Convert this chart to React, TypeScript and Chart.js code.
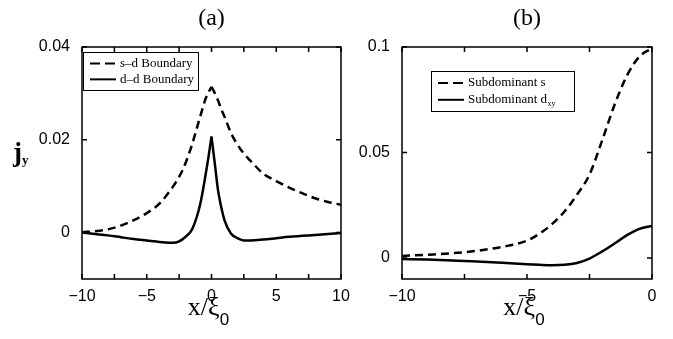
import React, { useEffect, useRef } from "react";
import { Chart, registerables } from "chart.js";

Chart.register(...registerables);

// ---------- data ----------
// Panel (a)
const A_X = [-10, -9, -8, -7, -6, -5, -4, -3, -2.5, -2, -1.5, -1, -0.75, -0.5, -0.25, 0, 0.25, 0.5, 0.75, 1, 1.5, 2, 2.5, 3, 4, 5, 6, 7, 8, 9, 10];
const A_SD = [0.0001, 0.0003, 0.0007, 0.0015, 0.0027, 0.0042, 0.0063, 0.0098, 0.012, 0.015, 0.019, 0.0238, 0.0262, 0.0285, 0.0301, 0.0314, 0.0301, 0.0285, 0.0266, 0.025, 0.0215, 0.019, 0.017, 0.0155, 0.0127, 0.0111, 0.0097, 0.0085, 0.0074, 0.0066, 0.006];
const A_DD = [0.0, -0.0003, -0.0006, -0.001, -0.0014, -0.0017, -0.002, -0.0022, -0.0019, -0.0009, 0.0007, 0.0047, 0.0078, 0.0117, 0.016, 0.0207, 0.015, 0.0092, 0.0055, 0.0027, -0.0002, -0.0012, -0.0017, -0.0017, -0.0015, -0.0012, -0.0009, -0.0007, -0.0005, -0.0003, -0.0001];
const A_XTICKS = [-10, -5, 0, 5, 10];
const A_XMINOR = [-10, -7.5, -5, -2.5, 0, 2.5, 5, 7.5, 10];
const A_YTICKS = [0, 0.02, 0.04];
const A_YLABELS = ["0", "0.02", "0.04"];
const A_LEGEND = ["s\u2013d Boundary", "d\u2013d Boundary"];

// Panel (b)
const B_X = [-10, -9, -8, -7, -6, -5, -4.5, -4, -3.5, -3, -2.5, -2, -1.5, -1, -0.5, 0];
const B_S = [0.0009, 0.0015, 0.0022, 0.0034, 0.0052, 0.0082, 0.0115, 0.016, 0.022, 0.03, 0.0395, 0.0555, 0.0725, 0.0865, 0.0955, 0.0993];
const B_D = [-0.0005, -0.0008, -0.0012, -0.0017, -0.0023, -0.003, -0.0033, -0.0035, -0.0033, -0.0024, -0.0003, 0.003, 0.0068, 0.0108, 0.0138, 0.0152];
const B_XTICKS = [-10, -5, 0];
const B_XMINOR = [-10, -7.5, -5, -2.5, 0];
const B_YTICKS = [0, 0.05, 0.1];
const B_YLABELS = ["0", "0.05", "0.1"];
const B_LEGEND = ["Subdominant s", "Subdominant d"];

const SERIF = '"Liberation Serif", "DejaVu Serif", serif';
const SANS = '"Liberation Sans", Arial, sans-serif';

function fmtX(v: number) {
  return v < 0 ? "\u2212" + Math.abs(v) : String(v);
}

type PanelCfg = {
  left: number;
  width: number;
  xs: number[];
  dashed: number[];
  solid: number[];
  splitAtZero: boolean;
  xmin: number;
  xmax: number;
  ymin: number;
  ymax: number;
  xticks: number[];
  xminor: number[];
  yticks: number[];
  ylabels: string[];
  yAxisW: number;
  padRight: number;
  title: string;
  legend: string[];
  legendSub?: string;
  legendBox: [number, number, number, number]; // relative to chart area left/top
  showJy: boolean;
};

function Panel({ cfg }: { cfg: PanelCfg }) {
  const ref = useRef<HTMLCanvasElement | null>(null);
  useEffect(() => {
    const overlay = {
      id: "overlay",
      afterDraw(chart: any) {
        const { ctx, chartArea: a } = chart;
        const x = chart.scales.x;
        const y = chart.scales.y;
        ctx.save();
        ctx.strokeStyle = "#000";
        ctx.fillStyle = "#000";
        ctx.lineWidth = 1.5;
        ctx.setLineDash([]);
        ctx.strokeRect(a.left, a.top, a.right - a.left, a.bottom - a.top);
        const TL = 5;
        ctx.beginPath();
        for (const v of cfg.xminor) {
          const px = x.getPixelForValue(v);
          ctx.moveTo(px, a.bottom);
          ctx.lineTo(px, a.bottom - TL);
          ctx.moveTo(px, a.top);
          ctx.lineTo(px, a.top + TL);
        }
        for (const v of cfg.yticks) {
          const py = y.getPixelForValue(v);
          ctx.moveTo(a.left, py);
          ctx.lineTo(a.left + TL, py);
          ctx.moveTo(a.right, py);
          ctx.lineTo(a.right - TL, py);
        }
        ctx.stroke();

        const cx = (a.left + a.right) / 2;
        // title
        ctx.font = "24px " + SERIF;
        ctx.textAlign = "center";
        ctx.textBaseline = "alphabetic";
        ctx.fillText(cfg.title, cx, 25);

        // x axis title: x/ξ0
        ctx.font = "26px " + SERIF;
        const main = "x/\u03be";
        const wMain = ctx.measureText(main).width;
        ctx.font = "17px " + SANS;
        const wSub = ctx.measureText("0").width;
        const startX = cx - 3 - (wMain + wSub) / 2;
        ctx.textAlign = "left";
        ctx.font = "26px " + SERIF;
        ctx.fillText(main, startX, 315);
        ctx.font = "17px " + SANS;
        ctx.fillText("0", startX + wMain, 325);

        // y label j_y
        if (cfg.showJy) {
          ctx.font = "bold 27px " + SERIF;
          ctx.fillText("j", 13, 161);
          ctx.font = "bold 13px " + SERIF;
          ctx.fillText("y", 22, 164);
        }

        // legend
        const [lx, ly, lw, lh] = cfg.legendBox;
        const bx = a.left + lx;
        const by = a.top + ly;
        ctx.fillStyle = "#fff";
        ctx.fillRect(bx, by, lw, lh);
        ctx.lineWidth = 1;
        ctx.strokeStyle = "#000";
        ctx.strokeRect(bx + 0.5, by + 0.5, lw, lh);
        ctx.fillStyle = "#000";
        ctx.lineWidth = 2;
        const r1 = by + lh * 0.3;
        const r2 = by + lh * 0.72;
        const sx0 = bx + 7;
        const sx1 = bx + 33;
        ctx.beginPath();
        ctx.setLineDash([10, 5]);
        ctx.moveTo(sx0, r1);
        ctx.lineTo(sx1, r1);
        ctx.stroke();
        ctx.beginPath();
        ctx.setLineDash([]);
        ctx.moveTo(sx0, r2);
        ctx.lineTo(sx1, r2);
        ctx.stroke();
        ctx.font = "13px " + SERIF;
        ctx.textBaseline = "middle";
        ctx.textAlign = "left";
        ctx.fillText(cfg.legend[0], sx1 + 4, r1);
        ctx.fillText(cfg.legend[1], sx1 + 4, r2);
        if (cfg.legendSub) {
          const w = ctx.measureText(cfg.legend[1]).width;
          ctx.font = "8px " + SERIF;
          ctx.fillText(cfg.legendSub, sx1 + 4 + w + 0.5, r2 + 4);
        }
        ctx.restore();
      },
    };

    const pts = (vals: number[]) => cfg.xs.map((xv, i) => ({ x: xv, y: vals[i] }));
    const base = {
      borderColor: "#000",
      borderWidth: 2.5,
      pointRadius: 0,
      fill: false,
      cubicInterpolationMode: "monotone",
    };
    const datasets: any[] = [];
    const addSeries = (vals: number[], label: string, dashed: boolean) => {
      const all = pts(vals);
      const parts = cfg.splitAtZero
        ? [all.filter((p) => p.x <= 0), all.filter((p) => p.x >= 0)]
        : [all];
      for (const part of parts) {
        datasets.push({ ...base, label, data: part, borderDash: dashed ? [8, 5] : [] });
      }
    };
    addSeries(cfg.dashed, cfg.legend[0], true);
    addSeries(cfg.solid, cfg.legend[1], false);

    const chart = new Chart(ref.current as HTMLCanvasElement, {
      type: "line",
      data: { datasets },
      options: {
        animation: false,
        responsive: false,
        events: [],
        layout: { padding: { left: 0, top: 47, right: cfg.padRight, bottom: 0 } },
        plugins: { legend: { display: false }, tooltip: { enabled: false }, title: { display: false } },
        scales: {
          x: {
            type: "linear",
            min: cfg.xmin,
            max: cfg.xmax,
            grid: { display: false, drawTicks: false },
            border: { display: false },
            ticks: {
              color: "#000",
              font: { family: SANS, size: 16 },
              padding: 8,
              maxRotation: 0,
              autoSkip: false,
              callback: (v: any) => fmtX(Number(v)),
            },
            afterBuildTicks: (s: any) => {
              s.ticks = cfg.xticks.map((v) => ({ value: v }));
            },
            afterFit: (s: any) => {
              s.height = 60;
            },
          },
          y: {
            type: "linear",
            min: cfg.ymin,
            max: cfg.ymax,
            grid: { display: false, drawTicks: false },
            border: { display: false },
            ticks: {
              color: "#000",
              font: { family: SANS, size: 16 },
              padding: 12,
              autoSkip: false,
              callback: (v: any) => {
                const i = cfg.yticks.findIndex((t) => Math.abs(t - Number(v)) < 1e-9);
                return i >= 0 ? cfg.ylabels[i] : "";
              },
            },
            afterBuildTicks: (s: any) => {
              s.ticks = cfg.yticks.map((v) => ({ value: v }));
            },
            afterFit: (s: any) => {
              s.width = cfg.yAxisW;
            },
          },
        },
      } as any,
      plugins: [overlay],
    });
    return () => chart.destroy();
  }, []);
  return (
    <div style={{ position: "absolute", left: cfg.left, top: 0, width: cfg.width, height: 339 }}>
      <canvas ref={ref} width={cfg.width} height={339} style={{ display: "block" }} />
    </div>
  );
}

const PANEL_A: PanelCfg = {
  left: 0,
  width: 365,
  xs: A_X,
  dashed: A_SD,
  solid: A_DD,
  splitAtZero: true,
  xmin: -10,
  xmax: 10,
  ymin: -0.01,
  ymax: 0.04,
  xticks: A_XTICKS,
  xminor: A_XMINOR,
  yticks: A_YTICKS,
  ylabels: A_YLABELS,
  yAxisW: 82,
  padRight: 24,
  title: "(a)",
  legend: A_LEGEND,
  legendBox: [1, 5, 115, 38],
  showJy: true,
};

const PANEL_B: PanelCfg = {
  left: 340,
  width: 333,
  xs: B_X,
  dashed: B_S,
  solid: B_D,
  splitAtZero: false,
  xmin: -10,
  xmax: 0,
  ymin: -0.01,
  ymax: 0.1,
  xticks: B_XTICKS,
  xminor: B_XMINOR,
  yticks: B_YTICKS,
  ylabels: B_YLABELS,
  yAxisW: 62,
  padRight: 21,
  title: "(b)",
  legend: B_LEGEND,
  legendSub: "xy",
  legendBox: [29, 24, 143, 40],
  showJy: false,
};

export default function App() {
  return (
    <div style={{ position: "fixed", left: 0, top: 0, width: 673, height: 339, background: "#fff", overflow: "hidden" }}>
      <Panel cfg={PANEL_A} />
      <Panel cfg={PANEL_B} />
    </div>
  );
}
